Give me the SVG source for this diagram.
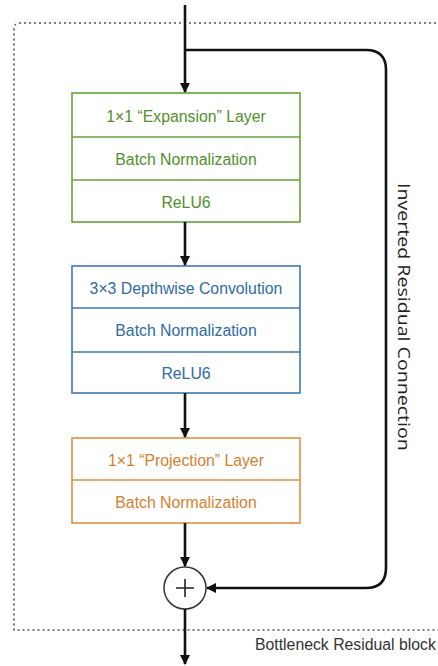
<svg xmlns="http://www.w3.org/2000/svg" width="438" height="666" viewBox="0 0 438 666">
<style>
.lbl{font-family:"Liberation Sans",Arial,sans-serif;font-size:15.8px;text-anchor:middle;dominant-baseline:central}
.g rect,.g line{stroke:#63a33a;fill:none;stroke-width:1.6}
.g text{fill:#4f912a}
.b rect,.b line{stroke:#3c78b4;fill:none;stroke-width:1.6}
.b text{fill:#2f6aa6}
.o rect,.o line{stroke:#e4913f;fill:none;stroke-width:1.6}
.o text{fill:#d5802f}
.conn{stroke:#111;stroke-width:2.6;fill:none}
</style>
<defs>
<marker id="ah" viewBox="0 0 10 10" refX="9" refY="5" markerWidth="4" markerHeight="4" orient="auto" markerUnits="strokeWidth">
<path d="M0,0 L10,5 L0,10 z" fill="#111"/>
</marker>
</defs>
<rect width="438" height="666" fill="#fff"/>
<g id="block-border">
<path d="M446,23 H20 Q14,23 14,29 V630 H446" fill="none" stroke="#555" stroke-width="1.6" stroke-dasharray="2,3"/>
<text x="255" y="650" font-family="Liberation Sans,Arial,sans-serif" font-size="15.8" fill="#333">Bottleneck Residual block</text>
</g>
<g id="expansion" class="g">
<rect x="72" y="93" width="228" height="129"/>
<line x1="72" y1="137" x2="300" y2="137"/>
<line x1="72" y1="180" x2="300" y2="180"/>
<text class="lbl" x="186" y="116">1×1 “Expansion” Layer</text>
<text class="lbl" x="186" y="159">Batch Normalization</text>
<text class="lbl" x="186" y="202">ReLU6</text>
</g>
<g id="depthwise" class="b">
<rect x="72" y="266" width="228" height="127"/>
<line x1="72" y1="308" x2="300" y2="308"/>
<line x1="72" y1="352" x2="300" y2="352"/>
<text class="lbl" x="186" y="288">3×3 Depthwise Convolution</text>
<text class="lbl" x="186" y="330">Batch Normalization</text>
<text class="lbl" x="186" y="373">ReLU6</text>
</g>
<g id="projection" class="o">
<rect x="72" y="438" width="228" height="85"/>
<line x1="72" y1="480" x2="300" y2="480"/>
<text class="lbl" x="186" y="460">1×1 “Projection” Layer</text>
<text class="lbl" x="186" y="502">Batch Normalization</text>
</g>
<g id="add">
<circle cx="185" cy="588" r="21" fill="#fff" stroke="#333" stroke-width="1.5"/>
<path d="M176,588 H194 M185,579 V597" stroke="#222" stroke-width="1.6"/>
</g>
<g id="connectors">
<line class="conn" x1="185" y1="5" x2="185" y2="92" marker-end="url(#ah)"/>
<line class="conn" x1="185" y1="222" x2="185" y2="265" marker-end="url(#ah)"/>
<line class="conn" x1="185" y1="393" x2="185" y2="437" marker-end="url(#ah)"/>
<line class="conn" x1="185" y1="523" x2="185" y2="566" marker-end="url(#ah)"/>
<line class="conn" x1="185" y1="609" x2="185" y2="664" marker-end="url(#ah)"/>
<path class="conn" d="M185,50 H366 Q386,50 386,70 V568 Q386,588 366,588 H207" marker-end="url(#ah)"/>
<text x="0" y="0" transform="translate(397.5,183) rotate(90) scale(1.225,1)" font-family="Open Sans,DejaVu Sans,sans-serif" font-size="16" fill="#222">Inverted Residual Connection</text>
</g>
</svg>
